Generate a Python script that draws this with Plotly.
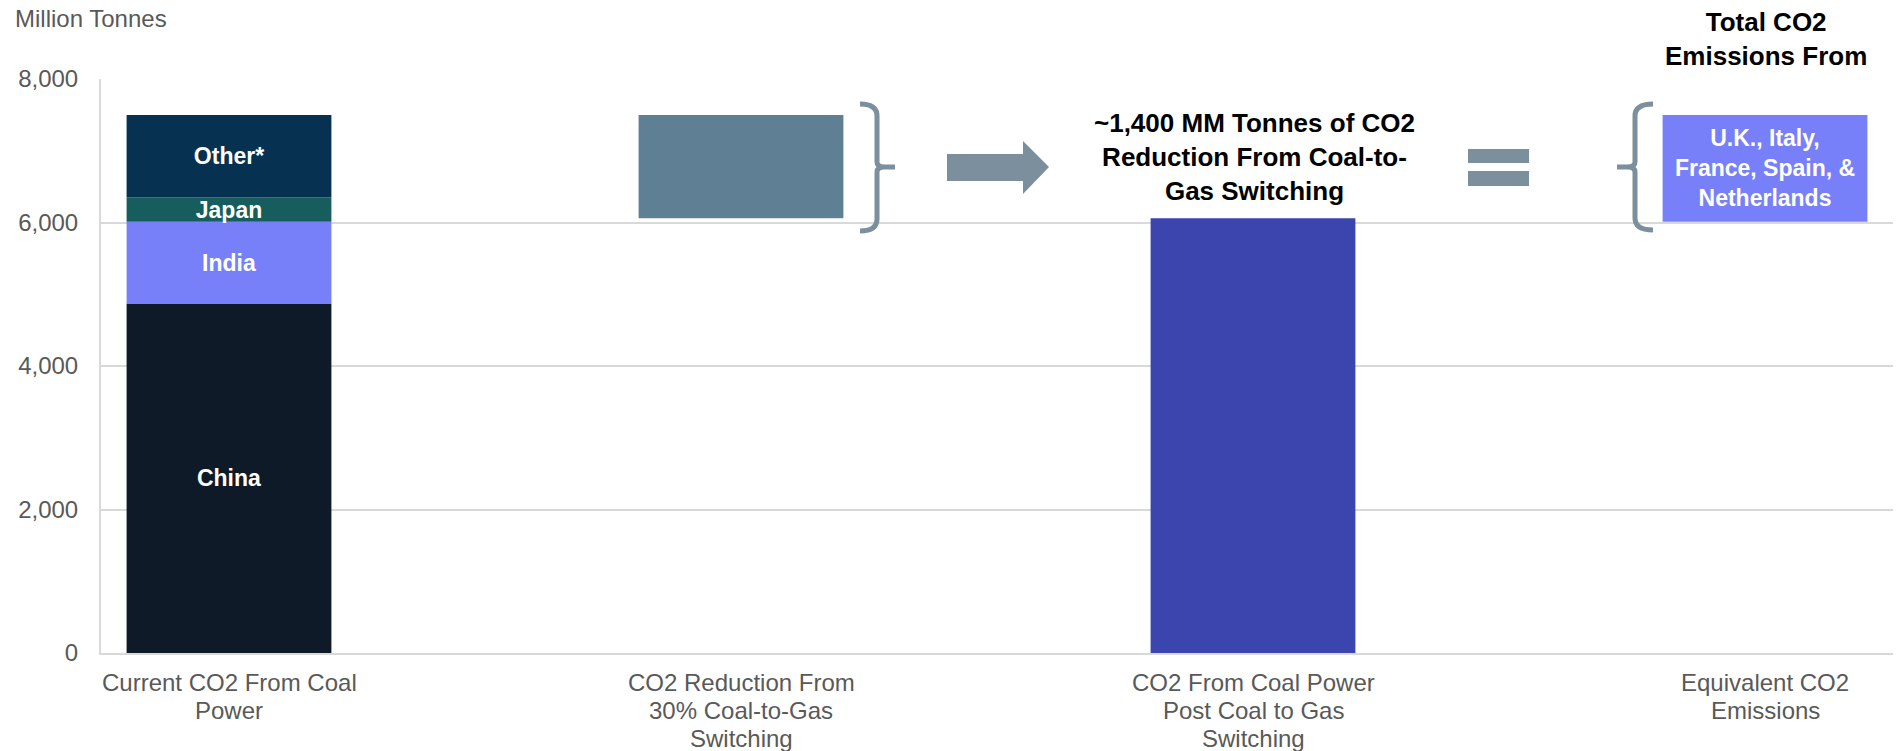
import plotly.graph_objects as go

# ---------------- data ----------------
categories = [
    "Current CO2 From Coal<br>Power",
    "CO2 Reduction From<br>30% Coal-to-Gas<br>Switching",
    "CO2 From Coal Power<br>Post Coal to Gas<br>Switching",
    "Equivalent CO2<br>Emissions",
]
segment_names = ["China", "India", "Japan", "Other*"]
segment_values = [4870, 1140, 340, 1150]
segment_colors = ["#0f1a28", "#7780f9", "#175d5e", "#073150"]

reduction_value = 1440
post_switch_value = 6060
equivalent_base = 6010
equivalent_value = 1490
equivalent_text = "U.K., Italy,<br>France, Spain, &<br>Netherlands"

y_ticks = [0, 2000, 4000, 6000, 8000]

# ---------------- layout geometry ----------------
W_FIG, H_FIG = 1896, 751
ML, MR, MT, MB = 101, 3, 79, 98
PW = W_FIG - ML - MR
PH = H_FIG - MT - MB
BOTTOM = H_FIG - MB


def px(x):
    return (x - ML) / PW


def py(y):
    return (BOTTOM - y) / PH


def path(cmds):
    out = []
    for c in cmds:
        op = c[0]
        pts = c[1:]
        coords = " ".join(f"{px(pts[i]):.5f},{py(pts[i+1]):.5f}" for i in range(0, len(pts), 2))
        out.append(f"{op} {coords}")
    return " ".join(out)


FONT = "Liberation Sans, Arial, Helvetica, sans-serif"
GREY = "#7b8f9c"
BAR_W = 0.4

fig = go.Figure()

total_current = sum(segment_values)
base = 0
for name, val, col in zip(segment_names, segment_values, segment_colors):
    fig.add_trace(go.Bar(
        x=[categories[0]], y=[val], base=[base], width=BAR_W,
        marker=dict(color=col, line=dict(width=0)),
        text=[name], textposition="inside", insidetextanchor="middle",
        textfont=dict(family=FONT, size=23, color="white", weight="bold"),
        hoverinfo="skip", showlegend=False,
    ))
    base += val

fig.add_trace(go.Bar(
    x=[categories[1]], y=[reduction_value], base=[total_current - reduction_value], width=BAR_W,
    marker=dict(color="#5f7f95", line=dict(width=0)),
    hoverinfo="skip", showlegend=False,
))
fig.add_trace(go.Bar(
    x=[categories[2]], y=[post_switch_value], base=[0], width=BAR_W,
    marker=dict(color="#3c45ad", line=dict(width=0)),
    hoverinfo="skip", showlegend=False,
))
fig.add_trace(go.Bar(
    x=[categories[3]], y=[equivalent_value], base=[equivalent_base], width=BAR_W,
    marker=dict(color="#7780f9", line=dict(width=0)),
    text=[equivalent_text], textposition="inside", insidetextanchor="middle",
    textfont=dict(family=FONT, size=23, color="white", weight="bold"),
    hoverinfo="skip", showlegend=False,
))

shapes = []
# right curly bracket after reduction bar
shapes.append(dict(
    type="path", xref="paper", yref="paper",
    path=path([
        ("M", 860, 104), ("Q", 877, 104, 877, 116), ("L", 877, 162),
        ("Q", 877, 167, 884, 167), ("L", 895, 167),
        ("M", 884, 167), ("Q", 877, 167, 877, 172), ("L", 877, 219),
        ("Q", 877, 231, 860, 231),
    ]),
    line=dict(color=GREY, width=5), fillcolor="rgba(0,0,0,0)",
))
# arrow
shapes.append(dict(
    type="path", xref="paper", yref="paper",
    path=path([
        ("M", 947, 154), ("L", 1023, 154), ("L", 1023, 141), ("L", 1049, 167),
        ("L", 1023, 194), ("L", 1023, 181), ("L", 947, 181), ("Z",),
    ]),
    line=dict(width=0), fillcolor=GREY,
))
# equals sign
for y0, y1 in [(149, 163), (171, 186)]:
    shapes.append(dict(
        type="rect", xref="paper", yref="paper",
        x0=px(1468), x1=px(1529), y0=py(y1), y1=py(y0),
        line=dict(width=0), fillcolor=GREY,
    ))
# left curly bracket before equivalent bar
shapes.append(dict(
    type="path", xref="paper", yref="paper",
    path=path([
        ("M", 1653, 104), ("Q", 1635, 104, 1635, 116), ("L", 1635, 162),
        ("Q", 1635, 167, 1628, 167), ("L", 1617, 167),
        ("M", 1628, 167), ("Q", 1635, 167, 1635, 172), ("L", 1635, 218),
        ("Q", 1635, 230, 1653, 230),
    ]),
    line=dict(color=GREY, width=5), fillcolor="rgba(0,0,0,0)",
))

annotations = [
    dict(text="Million Tonnes", xref="paper", yref="paper", x=px(13), y=py(18),
         xanchor="left", yanchor="middle", showarrow=False,
         font=dict(family=FONT, size=24, color="#595959")),
    dict(text="~1,400 MM Tonnes of CO2<br>Reduction From Coal-to-<br>Gas Switching",
         xref="paper", yref="paper", x=px(1254), y=py(157),
         xanchor="center", yanchor="middle", showarrow=False,
         font=dict(family=FONT, size=26, color="black", weight="bold")),
    dict(text="Total CO2<br>Emissions From",
         xref="paper", yref="paper", x=px(1766), y=py(39),
         xanchor="center", yanchor="middle", showarrow=False,
         font=dict(family=FONT, size=26, color="black", weight="bold")),
]

# category labels: one annotation per line, for tighter line spacing
for cat in categories:
    for i, line in enumerate(cat.split("<br>")):
        annotations.append(dict(
            text=line, xref="x", yref="paper", x=cat, y=py(682 + 28 * i),
            xanchor="center", yanchor="middle", showarrow=False,
            font=dict(family=FONT, size=24, color="#595959"),
        ))

fig.update_layout(
    width=W_FIG, height=H_FIG,
    margin=dict(l=ML, r=MR, t=MT, b=MB, pad=0, autoexpand=False),
    paper_bgcolor="white", plot_bgcolor="white",
    barmode="overlay",
    shapes=shapes, annotations=annotations,
    uniformtext=dict(minsize=22, mode="show"),
    showlegend=False,
    xaxis=dict(
        type="category", categoryorder="array", categoryarray=categories,
        range=[-0.25, 3.25], showgrid=False, automargin=False,
        showline=True, linecolor="#d9d9d9", linewidth=2,
        ticks="", showticklabels=False,
        fixedrange=True,
    ),
    yaxis=dict(
        range=[0, 8000], tickvals=y_ticks, tickformat=",",
        showgrid=True, gridcolor="#d9d9d9", gridwidth=1.5, automargin=False,
        showline=True, linecolor="#d9d9d9", linewidth=2,
        zeroline=False, ticks="", ticklabelstandoff=16,
        tickfont=dict(family=FONT, size=24, color="#595959"),
        fixedrange=True,
    ),
)

fig.write_html("out.html")
